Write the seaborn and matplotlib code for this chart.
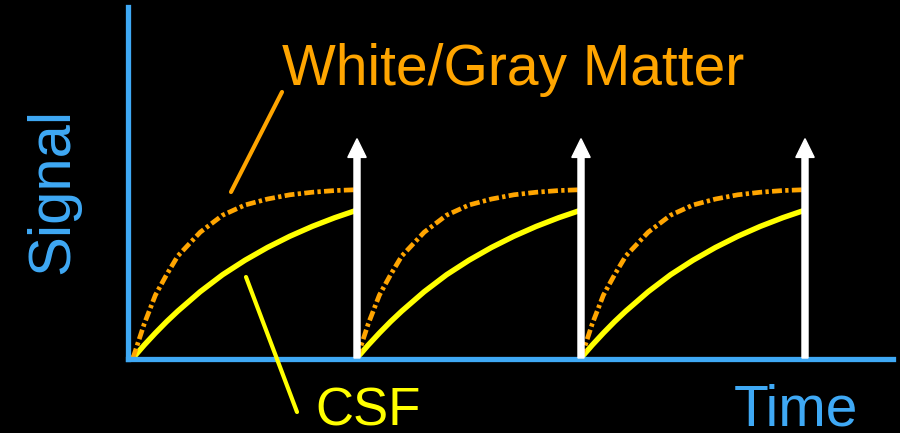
import numpy as np
import pandas as pd
import matplotlib.pyplot as plt
from matplotlib.lines import Line2D
import seaborn as sns

sns.set_theme(style="dark", rc={
    "axes.facecolor": "black",
    "figure.facecolor": "black",
    "savefig.facecolor": "black",
})
plt.rcParams["font.family"] = ["Liberation Sans", "DejaVu Sans"]

# time within one repetition (TR = 1) and signal
t_within = [0, 0.05, 0.1, 0.15, 0.2, 0.3, 0.4, 0.5, 0.6, 0.7, 0.8, 0.9, 1.0]
wm_signal = [0, 0.20, 0.37, 0.49, 0.60, 0.74, 0.84, 0.90, 0.935, 0.96, 0.975, 0.985, 0.99]
csf_signal = [0, 0.076, 0.147, 0.214, 0.276, 0.39, 0.49, 0.575, 0.65, 0.716, 0.774, 0.825, 0.87]
periods = [0, 1, 2]
arrow_times = [1, 2, 3]
arrow_top = 1.29

BLUE = "#3FA9F5"
ORANGE = "#FFA500"
YELLOW = "#FFFF00"

rows = []
for p in periods:
    for t, w, c in zip(t_within, wm_signal, csf_signal):
        rows.append({"time": p + t, "signal": c, "tissue": "CSF", "period": p})
        rows.append({"time": p + t, "signal": w, "tissue": "White/Gray Matter", "period": p})
df = pd.DataFrame(rows)

fig = plt.figure(figsize=(9, 4.33), dpi=100)
ax = fig.add_axes([128 / 900, 1 - 359 / 433, (893 - 128) / 900, (359 - 7) / 433])

sns.lineplot(data=df[df.tissue == "CSF"], x="time", y="signal",
             units="period", estimator=None, sort=False,
             color=YELLOW, linewidth=3.9, legend=False, ax=ax)
sns.lineplot(data=df[df.tissue == "White/Gray Matter"], x="time", y="signal",
             units="period", estimator=None, sort=False,
             color=ORANGE, linewidth=3.4, linestyle=(0, (2.1, 0.7, 0.7, 0.7)),
             legend=False, ax=ax)

for t in arrow_times:
    ax.arrow(t, 0, 0, arrow_top, width=0.027, head_width=0.082, head_length=0.11,
             length_includes_head=True, color="white", zorder=5)

ax.set_xlim(-5 / 224, 760 / 224)
ax.set_ylim(-1 / 170, 351 / 170)
ax.set_xticks([])
ax.set_yticks([])
ax.set_xlabel("")
ax.set_ylabel("")
for side in ["top", "right"]:
    ax.spines[side].set_visible(False)
for side in ["left", "bottom"]:
    ax.spines[side].set_visible(True)
    ax.spines[side].set_color(BLUE)
    ax.spines[side].set_linewidth(3.8)

def fx(px):
    return px / 900

def fy(py):
    return 1 - py / 433

fig.text(fx(513), fy(85), "White/Gray Matter", color=ORANGE, fontsize=41,
         ha="center", va="baseline")
fig.text(fx(368), fy(426), "CSF", color=YELLOW, fontsize=38,
         ha="center", va="baseline")
fig.text(fx(796), fy(426), "Time", color=BLUE, fontsize=41,
         ha="center", va="baseline")
fig.text(fx(68), fy(191), "Signal", color=BLUE, fontsize=43, rotation=90,
         rotation_mode="anchor", ha="center", va="baseline")

# pointer lines
fig.add_artist(Line2D([fx(282), fx(231)], [fy(92), fy(192)], color=ORANGE,
                      lw=3, transform=fig.transFigure))
fig.add_artist(Line2D([fx(246), fx(297)], [fy(277), fy(412)], color=YELLOW,
                      lw=3, transform=fig.transFigure))

fig.savefig("out.png", dpi=100)
